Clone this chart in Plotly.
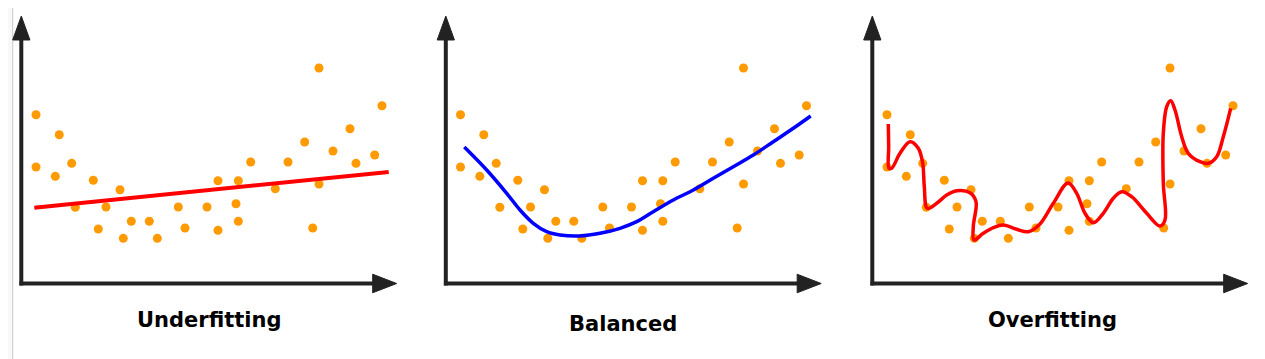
import plotly.graph_objects as go

# ---------------- data (shared scatter points, data units) ----------------
pts_x = [3.92, 3.92, 10.13, 9.07, 13.44, 14.40, 19.20, 20.53, 22.59, 26.32,
         27.20, 29.33, 34.13, 36.27, 41.87, 43.65, 49.52, 52.45, 52.45, 57.25,
         57.87, 57.87, 61.17, 67.73, 71.12, 75.57, 77.71, 79.39, 79.39, 83.12,
         87.65, 89.25, 94.24, 96.19]
pts_y = [69.18, 47.75, 60.98, 43.93, 49.26, 31.23, 42.30, 22.34, 31.35, 38.44,
         18.52, 25.49, 25.49, 18.52, 31.35, 22.75, 31.35, 42.13, 21.80, 32.70,
         42.13, 25.49, 49.80, 38.85, 49.80, 57.99, 22.75, 88.32, 40.78, 54.30,
         63.44, 49.26, 52.66, 72.87]

# underfitting (straight line)
under_x = [3.47, 97.97]
under_y = [31.07, 45.70]

# balanced (smooth curve)
bal_x = [4.93, 10.91, 16.24, 19.79, 23.33, 26.91, 30.45, 35.79, 41.12, 46.45,
         50.91, 55.33, 60.67, 66.00, 71.33, 76.67, 82.00, 87.33, 92.67, 97.31]
bal_y = [55.94, 46.52, 36.97, 30.12, 24.67, 21.23, 19.88, 19.47, 20.57, 22.62,
         25.33, 29.43, 34.22, 38.32, 43.11, 47.87, 52.66, 58.11, 63.61, 68.65]

# overfitting (wiggly curve)
over_x = [4.27, 4.37, 4.45, 5.17, 7.39, 10.05, 12.27, 13.44, 13.87, 14.67,
          17.17, 19.84, 22.51, 26.05, 27.65, 26.93, 27.12, 29.60, 32.27, 34.93,
          38.51, 41.60, 44.72, 48.27, 52.20, 54.51, 56.72, 58.93, 61.60, 64.27,
          66.51, 69.17, 73.17, 76.72, 78.05, 77.60, 77.60, 78.51, 79.57, 80.72,
          82.51, 84.27, 87.39, 89.60, 91.84, 93.60, 95.57]
over_y = [65.37, 56.07, 47.21, 47.21, 53.36, 58.11, 55.41, 49.26, 39.67, 30.82,
          32.87, 36.27, 38.03, 37.21, 33.52, 23.28, 17.83, 20.57, 22.87, 23.98,
          22.21, 21.23, 24.39, 32.87, 41.20, 36.97, 28.77, 24.92, 28.77, 34.92,
          37.62, 35.57, 28.77, 23.57, 26.02, 41.07, 61.56, 72.46, 74.92, 71.11,
          60.16, 53.36, 49.92, 49.26, 51.97, 60.16, 71.80]

titles = ["Underfitting", "Balanced", "Overfitting"]

# ---------------- layout constants ----------------
PAGE_OFF = 8                      # default body margin of the html page
W, H = 1265 - PAGE_OFF, 359 - PAGE_OFF
offsets = [0, 424.5, 851]         # panel left edges on the page
REL0, REL1 = 8, 410               # panel-relative pixel span drawn
XR = [(REL0 - 21.3) / 3.75, (REL1 - 21.3) / 3.75]
YR = [(283.5 - 359) / 2.44, (283.5 - PAGE_OFF) / 2.44]
DOT = "#FF9A00"
AX = "#222222"

fig = go.Figure()
fits = [
    (under_x, under_y, "#FF0000", 4),
    (bal_x, bal_y, "#0000FF", 3.5),
    (over_x, over_y, "#FF0000", 3.5),
]
for i in range(3):
    sx = "" if i == 0 else str(i + 1)
    fig.add_trace(go.Scatter(x=pts_x, y=pts_y, mode="markers",
                             marker=dict(size=9, color=DOT),
                             xaxis="x" + sx, yaxis="y" + sx, hoverinfo="skip"))
    fx, fy, col, lw = fits[i]
    fig.add_trace(go.Scatter(x=fx, y=fy, mode="lines",
                             line=dict(color=col, width=lw, shape="spline", smoothing=1.0),
                             xaxis="x" + sx, yaxis="y" + sx, hoverinfo="skip"))

layout = dict(width=W, height=H, margin=dict(l=0, r=0, t=0, b=0),
              paper_bgcolor="white", plot_bgcolor="rgba(0,0,0,0)",
              showlegend=False)
shapes = []
annotations = []
for i in range(3):
    sx = "" if i == 0 else str(i + 1)
    a = offsets[i] + REL0 - PAGE_OFF
    d0 = a / W
    d1 = (a + REL1 - REL0) / W
    layout["xaxis" + sx] = dict(domain=[d0, d1], range=XR, visible=False,
                                anchor="y" + sx, fixedrange=True)
    layout["yaxis" + sx] = dict(domain=[0, 1], range=YR, visible=False,
                                anchor="x" + sx, fixedrange=True)
    xr, yr = "x" + sx, "y" + sx
    shapes.append(dict(type="line", xref=xr, yref=yr, x0=0, y0=-0.8, x1=0, y1=100.5,
                       line=dict(color=AX, width=4), layer="below"))
    shapes.append(dict(type="line", xref=xr, yref=yr, x0=-0.5, y0=0, x1=94.5, y1=0,
                       line=dict(color=AX, width=4), layer="below"))
    shapes.append(dict(type="path", xref=xr, yref=yr,
                       path="M -2.3,99.8 L 0,109.6 L 2.3,99.8 Z",
                       fillcolor=AX, line=dict(color=AX, width=1)))
    shapes.append(dict(type="path", xref=xr, yref=yr,
                       path="M 93.7,-3.8 L 100.1,0 L 93.7,3.8 Z",
                       fillcolor=AX, line=dict(color=AX, width=1)))

# faint left strip
shapes.append(dict(type="rect", xref="paper", yref="paper", x0=0, x1=(12 - PAGE_OFF) / W,
                   y0=0, y1=1, fillcolor="#F8F9FA", line=dict(width=0), layer="below"))
shapes.append(dict(type="line", xref="paper", yref="paper",
                   x0=(12.7 - PAGE_OFF) / W, x1=(12.7 - PAGE_OFF) / W,
                   y0=0, y1=1, line=dict(color="#C8C8C8", width=1), layer="below"))

title_pos = [(208.5, 320), (623.3, 324), (1052.0, 320)]
for t, (px, py) in zip(titles, title_pos):
    annotations.append(dict(text="<b>" + t + "</b>", xref="paper", yref="paper",
                            x=(px - PAGE_OFF) / W, y=1 - (py - PAGE_OFF) / H,
                            xanchor="center", yanchor="middle", showarrow=False,
                            font=dict(family="Comic Sans MS, DejaVu Sans, sans-serif",
                                      size=21, color="black")))

layout["shapes"] = shapes
layout["annotations"] = annotations
fig.update_layout(**layout)
fig.write_html("out.html")
